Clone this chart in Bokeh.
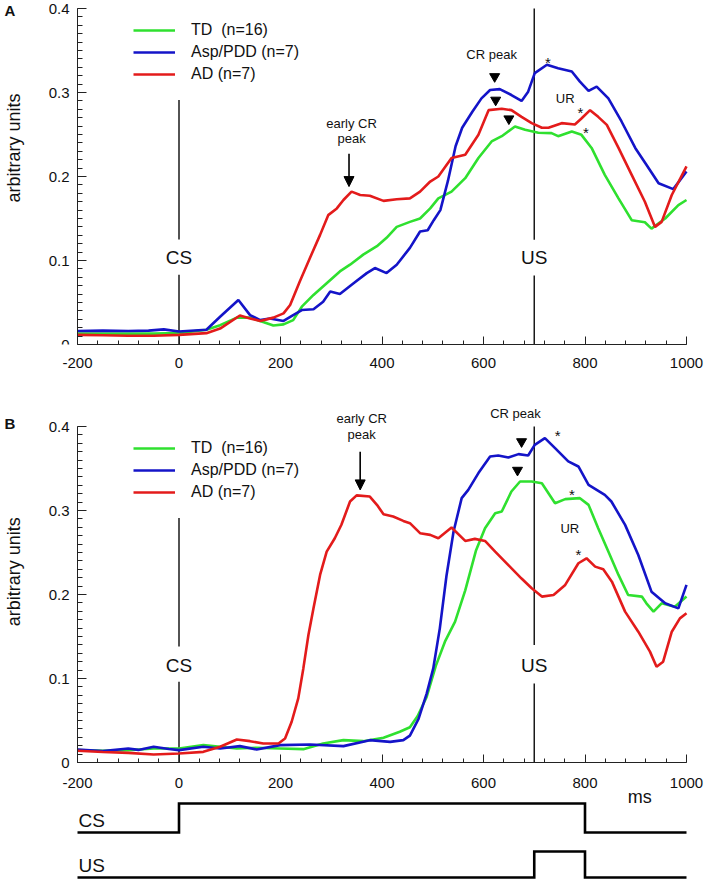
import math
from bokeh.plotting import figure
from bokeh.models import Range1d, FixedTicker, Legend, LegendItem, Arrow, NormalHead
from bokeh.layouts import column
from bokeh.embed import file_html
from bokeh.resources import INLINE
from bokeh.core.properties import value

FONT = "Liberation Sans"

# ---------------- data: panel A ----------------
A_TD_MS = [-200, -150, -100, -50, 0, 54, 81, 114, 140, 160, 186, 206, 225, 242, 265, 291, 317, 337, 363,
           390, 409, 429, 455, 475, 495, 511, 537, 564, 590, 616, 636, 662, 682, 708, 734, 747, 774, 793,
           813, 839, 866, 892, 918, 931, 958, 984, 1000]
A_TD = [0.013, 0.013, 0.013, 0.013, 0.0135, 0.0175, 0.023, 0.032, 0.032, 0.028, 0.0226, 0.024, 0.029,
        0.045, 0.059, 0.073, 0.087, 0.095, 0.107, 0.117, 0.127, 0.140, 0.146, 0.150, 0.162, 0.174, 0.182,
        0.198, 0.222, 0.2417, 0.248, 0.2595, 0.2556, 0.252, 0.2516, 0.248, 0.2536, 0.2496, 0.234, 0.202,
        0.174, 0.148, 0.1456, 0.138, 0.150, 0.166, 0.172]

A_ASP_MS = [-200, -150, -100, -60, -30, 0, 54, 81, 117, 140, 160, 179, 206, 225, 242, 265, 284, 298, 317,
            344, 370, 386, 409, 429, 455, 475, 490, 502, 515, 530, 545, 558, 578, 596, 613, 632, 655, 675,
            688, 701, 725, 747, 774, 790, 807, 823, 846, 872, 899, 921, 945, 974, 1000]
A_ASP = [0.016, 0.0165, 0.016, 0.0165, 0.018, 0.0155, 0.0175, 0.033, 0.053, 0.035, 0.029, 0.031, 0.028,
         0.035, 0.041, 0.042, 0.051, 0.063, 0.060, 0.073, 0.085, 0.091, 0.085, 0.095, 0.115, 0.1345, 0.136,
         0.148, 0.160, 0.195, 0.236, 0.258, 0.277, 0.293, 0.303, 0.304, 0.297, 0.290, 0.301, 0.323, 0.333,
         0.329, 0.325, 0.313, 0.302, 0.307, 0.293, 0.2655, 0.234, 0.214, 0.192, 0.185, 0.206]

A_AD_MS = [-200, -150, -100, -50, 0, 54, 81, 120, 140, 160, 186, 206, 219, 238, 258, 278, 294, 311, 324,
           340, 357, 376, 403, 429, 455, 475, 495, 511, 537, 564, 590, 610, 636, 655, 675, 695, 715, 728,
           754, 780, 793, 810, 826, 843, 866, 892, 918, 938, 951, 971, 1000]
A_AD = [0.0115, 0.011, 0.0105, 0.0105, 0.0115, 0.0135, 0.019, 0.0345, 0.031, 0.028, 0.032, 0.037, 0.047,
        0.075, 0.103, 0.1305, 0.154, 0.162, 0.172, 0.182, 0.178, 0.177, 0.171, 0.173, 0.174, 0.182, 0.194,
        0.200, 0.222, 0.226, 0.2496, 0.279, 0.2806, 0.279, 0.271, 0.2635, 0.258, 0.258, 0.2635, 0.262,
        0.269, 0.279, 0.271, 0.2615, 0.234, 0.202, 0.170, 0.140, 0.146, 0.178, 0.212]

# ---------------- data: panel B ----------------
B_TD_MS = [-200, -150, -100, -50, 0, 48, 81, 114, 153, 199, 245, 284, 324, 363, 403, 435, 455, 470, 488,
           506, 524, 544, 564, 585, 603, 623, 636, 655, 672, 695, 715, 741, 761, 790, 807, 826, 846, 866,
           885, 912, 921, 935, 951, 977, 1000]
B_TD = [0.0147, 0.014, 0.0145, 0.0167, 0.0167, 0.0207, 0.0187, 0.0167, 0.0175, 0.0167, 0.0159, 0.0226,
        0.0266, 0.0254, 0.0294, 0.0366, 0.042, 0.055, 0.078, 0.115, 0.1438, 0.1677, 0.205, 0.252, 0.2789,
        0.2968, 0.2988, 0.3226, 0.3345, 0.3345, 0.3325, 0.3087, 0.3135, 0.3147, 0.3067, 0.2789, 0.2511,
        0.2233, 0.1994, 0.1975, 0.1895, 0.1796, 0.1895, 0.1855, 0.1975]

B_ASP_MS = [-200, -150, -100, -80, -50, -20, 0, 48, 81, 120, 153, 199, 258, 324, 376, 416, 442, 455, 472,
            488, 501, 514, 527, 541, 557, 570, 590, 613, 629, 649, 669, 688, 701, 721, 741, 767, 787, 807,
            839, 852, 879, 905, 931, 958, 984, 1000]
B_ASP = [0.0155, 0.0135, 0.0167, 0.015, 0.0187, 0.016, 0.0147, 0.0187, 0.0167, 0.0195, 0.0155, 0.0207,
         0.0215, 0.0195, 0.0266, 0.0246, 0.0266, 0.032, 0.052, 0.082, 0.112, 0.160, 0.222, 0.275, 0.3147,
         0.3246, 0.3445, 0.3643, 0.3655, 0.3631, 0.3671, 0.3655, 0.3782, 0.3862, 0.3742, 0.3584, 0.3524,
         0.3306, 0.3186, 0.3107, 0.2829, 0.2471, 0.2034, 0.1895, 0.1835, 0.2114]

B_AD_MS = [-200, -150, -100, -50, 0, 48, 81, 114, 140, 166, 196, 209, 222, 235, 245, 255, 265, 278, 291,
           307, 320, 337, 350, 376, 390, 403, 422, 442, 455, 475, 495, 511, 537, 564, 583, 603, 623, 649,
           675, 695, 715, 738, 761, 787, 803, 820, 836, 853, 879, 905, 928, 941, 954, 971, 987, 1000]
B_AD = [0.0139, 0.0125, 0.0115, 0.0095, 0.0107, 0.0127, 0.0187, 0.0274, 0.0254, 0.0226, 0.0226, 0.0286,
        0.0485, 0.0763, 0.112, 0.1518, 0.1836, 0.2233, 0.251, 0.267, 0.283, 0.3107, 0.318, 0.3166, 0.3067,
        0.2956, 0.2928, 0.2876, 0.2849, 0.273, 0.271, 0.267, 0.2797, 0.2638, 0.2662, 0.2638, 0.251, 0.235,
        0.219, 0.2074, 0.1975, 0.1994, 0.2114, 0.2372, 0.2431, 0.2332, 0.230, 0.2153, 0.1796, 0.1557, 0.132,
        0.114, 0.12, 0.1557, 0.1716, 0.1776]

SERIES_LABELS = ["TD  (n=16)", "Asp/PDD (n=7)", "AD (n=7)"]
SERIES_COLORS = ["#2fe02f", "#1414c8", "#e31b1b"]

# ticks
X_TICKS = [-200, 0, 200, 400, 600, 800, 1000]
X_TICK_LABELS = ["-200", "0", "200", "400", "600", "800", "1000"]
Y_TICKS = [0, 0.1, 0.2, 0.3, 0.4]
Y_TICK_LABELS = ["0", "0.1", "0.2", "0.3", "0.4"]
Y_TITLE = "arbitrary units"

# annotations
A_NOTE_TEXT = ["early CR", "peak", "CR peak", "UR"]
A_NOTE_X = [340, 340, 616, 761]
A_NOTE_Y = [0.263, 0.245, 0.3456, 0.293]
A_STAR_X = [727, 791, 802]
A_STAR_Y = [0.340, 0.2806, 0.2567]
A_TRI_X = [622, 624, 650]
A_TRI_Y = [0.319, 0.291, 0.2687]
A_ARROW = (335, 0.227, 0.188)
A_CS_SEG = [(0.125, 0.291), (0.0, 0.083)]
A_US_SEG = [(0.1246, 0.4), (0.0, 0.082)]
A_STIM_LABEL_Y = 0.103
A_YTITLE_Y = 0.234

B_NOTE_TEXT = ["early CR", "peak", "CR peak", "UR"]
B_NOTE_X = [360, 360, 663, 770]
B_NOTE_Y = [0.410, 0.390, 0.416, 0.279]
B_STAR_X = [746, 774, 787]
B_STAR_Y = [0.394, 0.3234, 0.252]
B_TRI_X = [675, 667]
B_TRI_Y = [0.382, 0.348]
B_ARROW = (357, 0.370, 0.3245)
B_CS_SEG = [(0.138, 0.291), (0.0, 0.096)]
B_US_SEG = [(0.1398, 0.4), (0.0, 0.094)]
B_STIM_LABEL_Y = 0.116
B_YTITLE_Y = 0.227

# stimulus timing (ms)
CS_ON, CS_OFF = 0, 800
US_ON, US_OFF = 700, 800
STIM_TIMES = {"CS": (CS_ON, CS_OFF), "US": (US_ON, US_OFF)}

# ---------------- layout constants ----------------
W = 704
AXIS_PX = 77          # pixel x of the y axis (time -200)
RIGHT_PX = 18         # pixels right of time 1000
PXU = 840.0           # px per unit on y
T0, T1 = -200, 1000
MS_PER_PX = (T1 - T0) / (W - RIGHT_PX - AXIS_PX)
XR = (T0 - AXIS_PX * MS_PER_PX, T1 + RIGHT_PX * MS_PER_PX)   # frame spans the full canvas width

# timing traces drawn under panel B: px below B's zero line
TRACE_BASE_PX = {"CS": 70, "US": 115}
TRACE_AMP_PX = {"CS": 29, "US": 26}
TRACE_LABEL_PX = {"CS": 58, "US": 103}
MS_LABEL = (908, 34)   # (ms, px below zero line)


def style_axes(p, x_standoff):
    p.outline_line_color = None
    p.xaxis.ticker = FixedTicker(ticks=X_TICKS, minor_ticks=list(range(-200, 1001, 40)))
    p.xaxis.major_label_overrides = {t: l for t, l in zip(X_TICKS, X_TICK_LABELS)}
    p.yaxis.ticker = FixedTicker(ticks=Y_TICKS, minor_ticks=[round(i * 0.01, 2) for i in range(41)])
    p.yaxis.major_label_overrides = {t: l for t, l in zip(Y_TICKS, Y_TICK_LABELS)}
    p.yaxis.bounds = (0, 0.4)
    p.yaxis.fixed_location = T0
    p.xaxis.bounds = (T0, T1)
    for ax in (p.xaxis[0], p.yaxis[0]):
        ax.major_tick_in = 9
        ax.major_tick_out = 0
        ax.minor_tick_in = 5
        ax.minor_tick_out = 0
        ax.axis_line_color = "#222222"
        ax.major_tick_line_color = "#222222"
        ax.minor_tick_line_color = "#222222"
        ax.major_label_text_font = FONT
        ax.major_label_text_font_size = "15px"
        ax.major_label_text_color = "#111111"
    p.xaxis.major_tick_in = 8
    p.xaxis.minor_tick_in = 4
    p.xaxis.major_label_standoff = x_standoff
    p.yaxis.major_label_standoff = 8
    p.xgrid.visible = False
    p.ygrid.visible = False


def make_panel(letter, top_ext, bottom_ext, border_top, border_bottom, x_standoff, series, notes,
               stars, tris, arrow, cs_seg, us_seg, stim_y, letter_dy_px, ytitle_y):
    frame_h = int(round(0.4 * PXU + top_ext + bottom_ext))
    h = border_top + frame_h + border_bottom
    p = figure(width=W, height=h, output_backend="svg", toolbar_location=None,
               x_range=Range1d(*XR), y_range=Range1d(-bottom_ext / PXU, 0.4 + top_ext / PXU),
               min_border_left=0, min_border_right=0, min_border_top=border_top,
               min_border_bottom=border_bottom, tools="")
    p.background_fill_color = None
    p.border_fill_color = None
    style_axes(p, x_standoff)
    if bottom_ext > 0:
        p.xaxis.fixed_location = 0

    # y-axis title, rotated, at the reference's height
    p.text(x=[XR[0] + 13 * MS_PER_PX], y=[ytitle_y], text=[Y_TITLE], angle=math.pi / 2,
           text_font=value(FONT), text_font_size=value("18px"), text_align="center",
           text_baseline="middle", text_color="#111111")

    # stimulus marker lines
    for xpos, segs in ((CS_ON, cs_seg), (US_ON, us_seg)):
        p.segment(x0=[xpos] * len(segs), x1=[xpos] * len(segs), y0=[s[0] for s in segs],
                  y1=[s[1] for s in segs], line_color="#1a1a1a", line_width=1.5)
    p.text(x=[CS_ON, US_ON], y=[stim_y, stim_y], text=["CS", "US"], text_font=value(FONT),
           text_font_size=value("19px"), text_align="center", text_baseline="middle",
           text_color="#111111")

    items = []
    for (xs, ys), lab, col in zip(series, SERIES_LABELS, SERIES_COLORS):
        r = p.line(xs, ys, line_color=col, line_width=2.6)
        items.append(LegendItem(label=lab, renderers=[r]))

    # legend: first row centre at 0.3734 units
    row_h, spacing = 20, 2
    leg_h = 3 * row_h + 2 * spacing
    top_from_top = top_ext + (0.4 - 0.3734) * PXU - row_h / 2
    leg_bottom = frame_h - top_from_top - leg_h
    legend = Legend(items=items, location=(AXIS_PX + 56, leg_bottom), padding=0, margin=0,
                    spacing=spacing, glyph_width=42, glyph_height=row_h, label_height=row_h,
                    label_standoff=16, label_text_font=FONT, label_text_font_size="16px",
                    label_text_color="#111111", border_line_color=None, background_fill_alpha=0)
    p.add_layout(legend)

    nx, ny, nt = notes
    p.text(x=nx, y=ny, text=nt, text_font=value(FONT), text_font_size=value("13px"),
           text_align="center", text_baseline="middle", text_color="#111111")
    p.text(x=stars[0], y=stars[1], text=["*"] * len(stars[0]), text_font=value(FONT),
           text_font_size=value("15px"), text_align="center", text_baseline="middle",
           y_offset=4, text_color="#111111")
    p.scatter(x=tris[0], y=tris[1], marker="inverted_triangle", size=10, fill_color="black",
              line_color="black")
    ax_, y0, y1 = arrow
    p.add_layout(Arrow(end=NormalHead(size=10, fill_color="black", line_color="black"),
                       x_start=ax_, y_start=y0, x_end=ax_, y_end=y1, line_width=1.6,
                       line_color="black"))
    # panel letter, just left of the "0.4" label
    p.text(x=[XR[0] + 4 * MS_PER_PX], y=[0.4 - letter_dy_px / PXU], text=[letter],
           text_font=value(FONT), text_font_size=value("15px"), text_font_style="bold",
           text_align="left", text_baseline="middle", text_color="#111111")
    return p


pA = make_panel("A", 8, 0, 0, 34, 13,
                [(A_TD_MS, A_TD), (A_ASP_MS, A_ASP), (A_AD_MS, A_AD)],
                (A_NOTE_X, A_NOTE_Y, A_NOTE_TEXT), (A_STAR_X, A_STAR_Y), (A_TRI_X, A_TRI_Y),
                A_ARROW, A_CS_SEG, A_US_SEG, A_STIM_LABEL_Y, 2, A_YTITLE_Y)
pB = make_panel("B", 24, 118, 24, 0, 15,
                [(B_TD_MS, B_TD), (B_ASP_MS, B_ASP), (B_AD_MS, B_AD)],
                (B_NOTE_X, B_NOTE_Y, B_NOTE_TEXT), (B_STAR_X, B_STAR_Y), (B_TRI_X, B_TRI_Y),
                B_ARROW, B_CS_SEG, B_US_SEG, B_STIM_LABEL_Y, -3, B_YTITLE_Y)

# ---------------- timing diagram (below panel B's axis) ----------------
for name, (on, off) in STIM_TIMES.items():
    xs = [T0, on, on, off, off, T1]
    lv = [0, 0, 1, 1, 0, 0]
    ys = [(-TRACE_BASE_PX[name] + TRACE_AMP_PX[name] * v) / PXU for v in lv]
    pB.line(xs, ys, line_color="black", line_width=2.6, line_join="miter")
pB.text(x=[T0 + 2, T0 + 2], y=[-TRACE_LABEL_PX["CS"] / PXU, -TRACE_LABEL_PX["US"] / PXU],
        text=["CS", "US"], text_font=value(FONT), text_font_size=value("19px"), text_align="left",
        text_baseline="middle", text_color="#111111")
pB.text(x=[MS_LABEL[0]], y=[-MS_LABEL[1] / PXU], text=["ms"], text_font=value(FONT),
        text_font_size=value("18px"), text_align="center", text_baseline="middle",
        text_color="#111111")

layout = column(pA, pB, spacing=0)
open("out.html", "w").write(file_html(layout, INLINE))
